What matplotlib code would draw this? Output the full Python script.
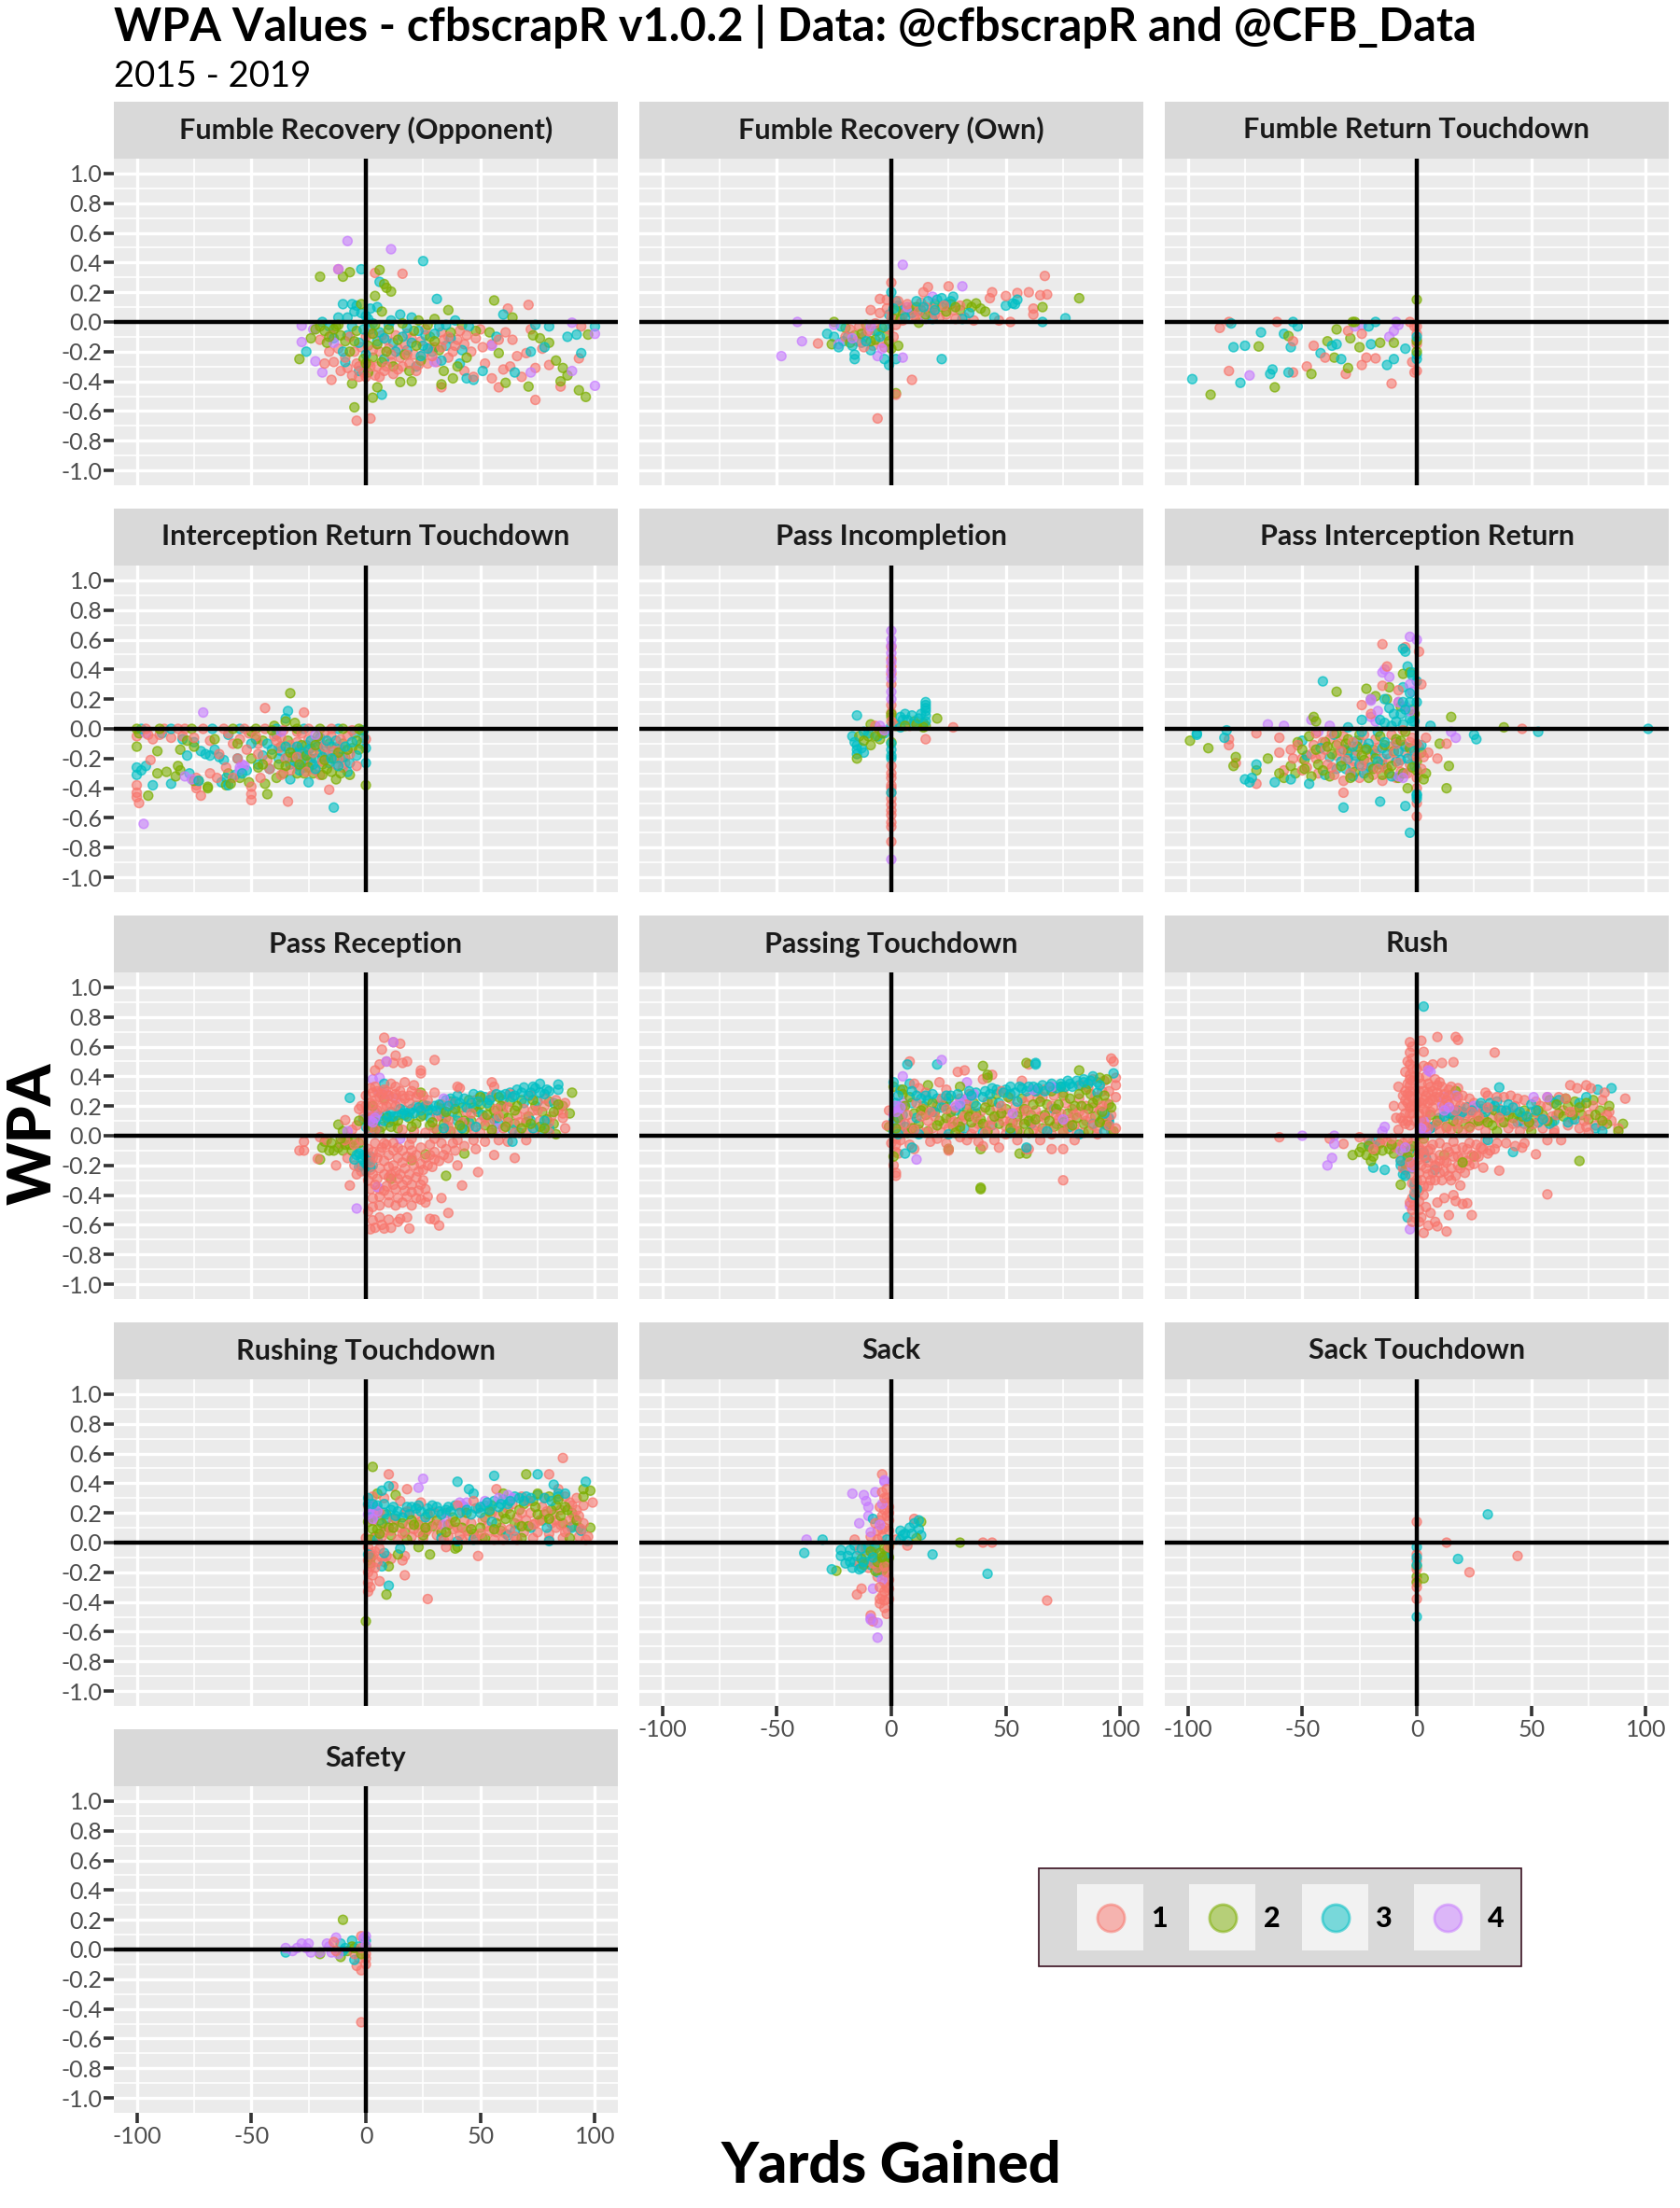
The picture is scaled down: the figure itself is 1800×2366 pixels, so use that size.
import numpy as np
import matplotlib
matplotlib.use("Agg")
import matplotlib.pyplot as plt
from matplotlib.patches import Rectangle

# (yards gained, wpa), one list per quarter
fum_opp_q1 = [(-12,.355),(4,.33),(16,.325),(71,.115),(62,.09),(-15,-.39),(-4,-.665),(2,-.65),(33,-.44),(94,-.03),(93,-.245),(85,-.435),(74,-.525),(58,-.44),(-20,-.12),(-16,-.2),(-14,-.27),(-11,-.33),(-8,-.31),(-5,-.2),(-3,-.37),(0,-.1),(1,-.28),(4,-.36),(6,-.2),(9,-.12),(11,-.27),(14,-.18),(16,-.3),(18,-.08),(21,-.22),(24,-.13),(27,-.28),(30,-.17),(33,-.07),(36,-.24),(40,-.12),(43,-.33),(46,-.2),(50,-.05),(52,-.28),(55,-.15),(60,-.32),(61,-.07),(63,-.3),(66,-.23),(68,-.37),(70,-.21),(72,-.05),(74,-.31),(77,-.18),(80,-.29),(55,-.38),(47,-.37),
 (-18,-.28),(-15,-.09),(-12,-.18),(-9,-.24),(-7,-.1),(-4,-.28),(-2,-.17),(-1,-.34),(2,-.08),(3,-.19),(5,-.3),(7,-.09),(8,-.33),(10,-.18),(12,-.35),(13,-.09),(15,-.24),(17,-.15),(19,-.28),(20,-.11),(22,-.33),(25,-.22),(26,-.05),(28,-.17),(31,-.27),(34,-.12),(38,-.2),(41,-.06),(43,-.15),(48,-.11),(51,-.17),(58,-.12),(64,-.12),
 (-6,-.36),(-3,-.3),(0,-.37),(2,-.3),(6,-.37),(9,-.3),(11,-.22),(14,-.32),(18,-.22),(23,-.29),(29,-.23),(33,-.17),(36,-.1),(39,-.16),(44,-.09)]
fum_opp_q2 = [(-7,.335),(6,.35),(-20,.305),(-10,.305),(8,.255),(9,.23),(11,.205),(4,.175),(56,.145),(36,.08),(-29,-.25),(-6,-.415),(5,-.44),(3,-.51),(-5,-.575),(33,-.42),(15,-.405),(20,-.4),(97,-.085),(88,-.36),(85,-.4),(93,-.46),(96,-.505),(71,-.435),(61,-.41),(-24,-.11),(-22,-.05),(-18,-.06),(-13,-.03),(-9,-.13),(-2,.12),(1,-.16),(3,-.24),(7,.07),(12,-.3),(19,-.33),(23,.01),(28,-.1),(34,-.33),(38,-.38),(42,-.02),(48,-.06),(54,-.07),(58,-.21),(64,.03),(73,-.09),(76,-.11),(80,-.14),(83,-.26),(86,-.31),(30,.02),
 (-17,-.14),(-14,-.05),(-11,-.09),(-7,-.2),(-4,-.06),(-1,-.25),(1,-.34),(3,-.08),(5,-.15),(7,-.27),(10,-.05),(14,-.12),(17,-.22),(21,-.06),(24,-.26),(27,-.02),(32,-.19),(37,-.07),(40,-.3),(44,-.24),
 (-20,-.03),(-16,-.1),(-12,-.02),(-5,-.13),(0,-.28),(4,-.02),(9,-.2),(16,-.01),(22,-.16),(30,-.13)]
fum_opp_q3 = [(-2,.355),(6,.27),(31,.155),(25,.41),(-26,-.2),(7,-.49),(100,-.03),(92,-.085),(94,-.21),(-10,.12),(-6,.12),(-4,.11),(-2,.06),(0,.04),(2,.09),(5,.1),(-19,0),(-16,-.03),(-12,.03),(-8,-.09),(-9,-.27),(-3,-.33),(2,-.05),(5,-.13),(8,-.25),(12,-.14),(15,.05),(18,-.19),(20,.03),(22,-.3),(26,-.09),(29,-.2),(32,-.03),(35,-.16),(39,.01),(41,-.28),(44,-.38),(47,-.39),(51,-.33),(57,-.1),(60,.05),(65,-.34),(72,-.2),(74,-.02),(78,-.17),(80,-.03),(88,-.1),
 (-14,-.11),(-10,-.2),(-6,-.03),(-3,-.14),(0,-.22),(3,-.01),(6,-.07),(10,-.02),(13,-.2),(16,-.1),(20,-.14),(23,-.06),(25,-.16),(30,-.08),(33,-.26),(37,-.11),(42,-.19),(45,-.03),
 (-8,.03),(-5,.07),(-1,-.05),(1,.02),(8,-.11),(11,.01),(18,-.04),(24,-.23),(27,-.18),(35,-.02)]
fum_opp_q4 = [(-8,.545),(11,.49),(-12,.355),(-28,-.025),(-23,-.05),(-28,-.135),(-22,-.265),(-19,-.34),(90,-.005),(100,-.08),(90,-.33),(100,-.43),(55,-.16),(-14,-.14),(30,-.27),(72,-.34)]

fum_own_q1 = [(67,.31),(-6,-.65),(2,-.49),(9,-.39),(-32,-.145),(0,.265),(-5,.155),(-2,.15),(4,.1),(14,.2),(16,.235),(25,.24),(44,.2),(43,.16),(50,.175),(55,.195),(60,.2),(65,.18),(68,.185),(62,.09),(62,.05),(36,.01),(47,.01),(52,0),(-9,.08),(-12,-.1),(-8,-.16),(-4,-.14),(-3,-.17),(-1,-.05),(2,-.02),(6,.06),(9,.1),(11,.03),(13,.13),(17,.06),(18,.09),(21,.03),(24,.05),(27,.08),(30,.11),(32,.03),(-18,-.05),(-15,-.13),(-12,-.17),
 (-20,-.1),(-14,-.03),(-10,-.06),(-7,-.01),(-5,.06),(-2,.09),(0,.03),(1,-.1),(3,.14),(5,.01),(7,.12),(10,.04),(12,.07),(15,.1),(19,.05),(23,.11),(28,.02)]
fum_own_q2 = [(82,.16),(2,-.48),(-26,-.15),(-25,0),(-20,-.04),(-16,-.09),(-11,-.02),(-6,-.06),(-2,-.09),(1,.02),(5,.05),(8,.08),(12,-.005),(19,.12),(22,.1),(26,.12),(30,.08),(33,.12),(35,.1),(37,.125),(39,.09),(41,.07),(66,.1),(3,-.16),(0,-.18),(-4,-.04),(-9,-.13),
 (-18,-.14),(-13,-.08),(-7,-.12),(-1,-.13),(2,.08),(4,.02),(11,.1),(15,.05),(24,.07),(28,.1)]
fum_own_q3 = [(22,-.25),(-28,-.08),(-25,-.1),(-21,-.13),(-16,-.22),(-16,-.25),(-3,-.25),(-1,-.29),(2,-.25),(50,.11),(53,.125),(54,.12),(55,.15),(66,0),(76,.025),(27,.17),(0,.2),(2,.14),(5,.08),(-22,-.03),(-19,-.1),(-13,-.14),(-9,-.19),(-7,-.06),(-1,.05),(3,.11),(9,.06),(13,.08),(16,.14),(20,.15),(22,.16),(24,.12),(26,.14),(31,.02),(34,.06),(45,.03),(18,.02),
 (-23,-.17),(-17,-.16),(-11,-.13),(-5,-.1),(-3,-.03),(1,.09),(6,.03),(11,.14),(14,.1),(19,.08)]
fum_own_q4 = [(5,.385),(31,.24),(-41,0),(-39,-.13),(-48,-.23),(-6,-.23),(-23,-.15),(5,-.24),(-25,-.02),(18,.17),(-11,-.08),(7,.1),(15,.02),(-17,-.11),(-9,-.03),(-4,-.18)]

fum_td_q1 = [(-82,-.33),(-54,-.34),(-48,-.3),(-31,-.35),(-11,-.415),(-24,-.29),(-22,-.24),(-18,-.245),(-40,-.24),(-45,-.16),(-54,-.13),(-86,-.04),(-82,0),(-61,0),(-30,-.06),(-24,-.08),(-3,0),(-1,-.03),(0,-.08),(0,-.12),(0,-.15),(-2,-.27),(0,-.33),(-1,-.34),(0,-.03)]
fum_td_q2 = [(0,.15),(-90,-.49),(-62,-.44),(-46,-.35),(-30,-.31),(-36,-.24),(-69,-.165),(-56,-.095),(-39,-.13),(-35,-.05),(-29,-.11),(-25,-.17),(-16,-.14),(-10,-.14),(-28,0),(-27,0),(0,-.13),(0,-.2)]
fum_td_q3 = [(-98,-.385),(-77,-.41),(-63,-.32),(-64,-.35),(-56,-.34),(-13,-.29),(-10,-.25),(-42,-.21),(-33,-.25),(-55,-.17),(-58,-.08),(-68,-.07),(-75,-.16),(-80,-.17),(-81,-.01),(-54,0),(-52,-.03),(-20,-.15),(-37,-.16),(-35,-.15),(-21,-.03),(-18,0),(-5,-.18),(0,-.25),(0,-.22),(0,-.1)]
fum_td_q4 = [(-73,-.36),(-24,-.02),(-12,-.1),(-10,-.06),(-9,0),(-27,-.03),(-8,-.02)]

int_td_q1 = [(-100,-.05),(-100,-.38),(-100,-.43),(-100,-.46),(-99,-.5),(-94,-.21),(-93,-.07),(-88,0),(-85,-.06),(-90,-.04),(-80,-.05),(-74,-.38),(-72,-.45),(-74,-.4),(-79,0),(-74,-.33),(-68,-.3),(-68,-.08),(-62,0),(-60,-.03),(-58,-.1),(-55,-.07),(-51,-.03),(-47,-.1),(-44,.14),(-50,-.39),(-50,-.44),(-50,-.48),(-34,-.49),(-30,-.02),(-37,-.06),(-40,-.05),(-38,-.13),(-33,-.11),(-30,-.25),(-27,.11),(-30,-.09),(-27,-.16),(-25,-.07),(-24,-.23),(-22,-.28),(-20,-.09),(-20,-.31),(-17,-.18),(-16,-.41),(-15,-.05),(-13,-.24),(-12,-.12),(-10,-.26),(-8,-.05),(0,-.07),(-9,-.23),(-56,-.2),(-58,-.33),(-64,-.17),(-46,-.33),(-43,-.21),(-65,-.33),(-61,-.26),
 (-96,0),(-82,0),(-71,0),(-53,0),(-44,0),(-36,-.01),(-25,0),(-15,0),(-6,-.01),(-95,-.04),(-75,-.06),(-48,-.05),(-28,-.03),(-18,-.03),(-35,-.2),(-33,-.28),(-26,-.29),(-19,-.22),(-14,-.15),(-11,-.07),(-7,-.17),(-4,-.25),(-39,-.08),
 (-30,-.19),(-23,-.16),(-18,-.12),(-12,-.2),(-42,-.27),(-37,-.31),(-52,-.14),(-47,-.17)]
int_td_q2 = [(-33,.24),(-95,-.45),(-87,-.29),(-81,-.28),(-91,-.15),(-100,-.12),(-99,-.03),(-91,-.3),(-83,-.32),(-82,-.25),(-73,-.35),(-69,-.39),(-81,-.14),(-75,-.12),(-75,-.35),(-69,-.4),(-60,-.3),(-55,-.33),(-61,-.38),(-51,-.36),(-45,-.08),(-44,-.37),(-39,-.33),(-37,-.12),(-34,-.08),(-29,-.14),(-27,-.21),(-24,-.13),(-24,-.2),(-23,-.3),(-20,-.16),(-19,-.24),(-16,-.1),(-15,-.29),(-10,-.1),(-7,-.31),(-9,-.19),(0,-.38),(-43,-.44),(-40,.02),(-35,.05),(-31,.04),(-50,-.2),(-56,-.1),(-66,-.07),(-50,-.02),(-30,-.3),(-27,-.3),(-19,-.31),(-13,-.34),(-4,-.08),(-6,-.13),(-3,-.14),(-2,-.01),(-48,-.07),(-47,-.26),(-59,-.37),(-78,-.08),
 (-100,0),(-90,0),(-76,0),(-58,0),(-48,0),(-41,-.01),(-30,0),(-20,0),(-10,0),(-3,0),(-38,-.24),(-36,-.3),(-32,-.19),(-28,-.11),(-25,-.26),(-21,-.05),(-17,-.27),(-14,-.2),(-11,-.3),(-8,-.14),(-41,-.17),
 (-33,-.16),(-26,-.18),(-22,-.11),(-18,-.21),(-12,-.16),(-35,-.25),(-29,-.24),(-45,-.24)]
int_td_q3 = [(-100,-.26),(-100,-.31),(-98,-.28),(-96,-.25),(-93,-.38),(-85,-.37),(-89,-.03),(-80,-.07),(-75,-.09),(-77,-.3),(-70,-.17),(-72,-.15),(-68,-.18),(-66,-.14),(-64,-.19),(-62,-.21),(-60,-.04),(-63,-.36),(-61,-.33),(-60,-.38),(-56,-.2),(-57,-.31),(-52,-.28),(-47,-.24),(-45,-.18),(-42,-.27),(-39,-.04),(-37,-.15),(-34,-.19),(-33,-.34),(-35,.07),(-32,-.14),(-30,-.17),(-28,-.23),(-34,.12),(-27,-.26),(-26,-.11),(-25,-.36),(-24,-.08),(-22,-.2),(-20,-.06),(-18,-.15),(-15,-.12),(-14,-.53),(-13,-.18),(-11,-.14),(-8,-.29),(-5,-.03),(-2,-.1),(0,-.13),(-1,-.06),(0,-.23),(-78,-.18),(-73,-.35),(-43,-.1),
 (-98,0),(-85,0),(-67,0),(-55,0),(-39,0),(-27,0),(-12,0),(-1,-.01),(-41,-.14),(-38,-.2),(-35,-.12),(-33,-.24),(-31,-.22),(-29,-.28),(-26,-.18),(-23,-.24),(-21,-.12),(-19,-.19),(-16,-.23),(-13,-.08),(-10,-.19),(-7,-.23),(-4,-.18),(-50,-.1),(-54,-.3),
 (-30,-.12),(-28,-.16),(-25,-.14),(-22,-.27),(-17,-.08),(-15,-.2),(-12,-.25),(-9,-.12),(-6,-.09)]
int_td_q4 = [(-71,.11),(-97,-.64),(-96,-.03),(-79,-.32),(-76,-.34),(-54,-.24),(-55,-.28),(-55,-.26),(-53,-.25),(-37,-.02),(-22,-.04)]

incomp_q1 = [(0,.55),(0,.47),(0,.42),(0,.37),(0,.3),(0,.16),(0,.11),(-7,.02),(-5,-.01),(2,.03),(8,.02),(15,-.07),(27,.01),(0,-.3),(0,-.33),(0,-.38),(0,-.4),(0,-.43),(0,-.47),(0,-.51),(0,-.55),(0,-.58),(0,-.63),(0,-.66),(0,-.76),(0,.05),(0,-.25)]
incomp_q2 = [(-9,.03),(-5,-.07),(-10,-.05),(0,.08),(2,.02),(10,.05),(14,.04),(15,.02),(20,.07),(-15,-.2),(-14,-.05),(-9,-.11),(-4,-.03),(0,-.09),(14,.01),(11,.03),(0,.1),(-12,-.08),(-7,-.05),(6,.02)]
incomp_q3 = [(-15,.09),(-17,-.05),(-15,-.14),(-15,-.11),(-15,-.17),(-12,-.16),(-6,-.05),(-3,-.03),(0,-.18),(0,-.2),(0,-.14),(4,.08),(5,.06),(7,.06),(9,.09),(10,.03),(15,.18),(15,.16),(15,.14),(15,.12),(15,.09),(15,.05),(-12,-.02),(4,.01),(0,-.43),(0,.02),(-16,-.09),(-13,-.13),(-10,-.03),(6,.1),(12,.07),(13,.1),(0,-.1)]
incomp_q4 = [(0,.66),(0,.6),(0,.56),(0,.51),(0,.45),(0,.39),(0,.34),(-5,.02),(-3,-.01),(0,-.88),(0,.25),(0,.2)]

pass_int_q1 = [(-82,-.07),(-82,-.11),(-79,-.23),(-70,-.37),(-60,-.16),(-55,-.14),(-58,-.28),(-50,-.2),(-50,-.28),(-45,-.11),(-43,-.3),(-38,-.07),(-35,-.18),(-32,-.35),(-32,-.05),(-32,-.43),(-30,-.13),(-28,-.26),(-27,-.22),(-25,-.33),(-24,-.1),(-22,-.28),(-20,-.17),(-20,.1),(-18,-.07),(-15,-.35),(-24,.16),(-12,-.2),(-9,-.33),(-8,.18),(-12,-.12),(-7,-.29),(-5,-.16),(-3,-.24),(-5,.55),(-2,-.06),(-6,-.01),(0,-.33),(0,-.4),(0,-.5),(0,-.59),(1,-.12),(3,-.19),(5,-.16),(9,-.2),(13,-.1),(46,0),(-13,.42),(-15,.57),(-15,.29),(-8,.26),(1,.52),(2,.3),(-54,-.2),(-42,-.18),(-37,-.26),
 (-52,-.11),(-48,-.26),(-46,-.17),(-44,-.2),(-41,-.09),(-39,-.24),(-36,-.31),(-34,-.1),(-31,-.21),(-29,-.3),(-26,-.15),(-23,-.04),(-21,-.23),(-19,-.31),(-17,-.13),(-15,-.2),(-13,-.27),(-11,-.04),(-10,-.16),(-8,-.23),(-6,-.11),(-4,-.3),(-2,-.18),(0,-.1),(2,-.27),(4,-.06),(-60,-.06),(-70,-.03),
 (-44,-.03),(-40,-.14),(-37,-.03),(-33,-.15),(-28,-.09),(-24,-.25),(-17,-.27),(-9,-.1),(-3,-.09),(0,-.19)]
pass_int_q2 = [(-99,-.08),(-91,-.13),(-79,-.19),(-80,-.25),(-70,-.28),(-58,-.33),(-53,-.3),(-55,-.25),(-49,-.21),(-46,-.32),(-40,-.09),(-45,.08),(-44,.05),(-38,-.32),(-35,.25),(-35,-.11),(-30,-.16),(-27,-.29),(-25,-.04),(-23,-.21),(-19,-.14),(-20,.2),(-22,.27),(-18,.22),(-13,.2),(-15,-.31),(-13,-.27),(-12,.28),(-10,-.15),(-8,-.33),(-6,.37),(-3,.38),(-2,.13),(-1,.1),(3,-.34),(2,-.16),(15,.08),(10,-.1),(14,-.25),(4,-.3),(-30,-.07),(-7,.15),(38,.01),(-52,-.09),(-60,-.3),(-16,-.24),(-4,-.4),(0,-.22),(13,-.4),
 (-50,-.14),(-47,-.05),(-43,-.24),(-41,-.28),(-37,-.17),(-33,-.25),(-29,-.33),(-26,-.12),(-24,-.18),(-21,-.33),(-18,-.2),(-16,-.05),(-14,-.11),(-11,-.25),(-9,-.07),(-6,-.3),(-3,-.13),(0,-.28),(-65,-.2),(-35,-.03),(-5,-.02),
 (-49,-.27),(-44,-.14),(-39,-.12),(-31,-.1),(-22,-.14),(-19,-.27),(-12,-.3),(-7,-.08),(-2,-.26)]
pass_int_q3 = [(-96,-.03),(-96,-.04),(-84,-.06),(-83,-.01),(-73,-.36),(-75,-.34),(-72,-.33),(-70,-.24),(-62,-.36),(-55,-.34),(-50,-.08),(-48,-.18),(-47,-.37),(-40,-.31),(-38,-.19),(-36,-.04),(-35,-.27),(-32,-.14),(-30,.01),(-28,-.32),(-26,-.08),(-33,-.22),(-23,-.3),(-22,-.13),(-18,-.17),(-15,-.24),(-14,.04),(-14,.2),(-12,.14),(-10,.1),(-9,-.09),(-7,-.21),(-6,.03),(-3,.07),(-4,.42),(-6,.28),(-6,.54),(-5,.52),(-2,.38),(-2,.36),(-1,.05),(0,.32),(0,.18),(-30,-.2),(-32,-.53),(-16,-.49),(-5,-.52),(0,-.45),(0,-.44),(-3,-.7),(0,-.47),(-24,.06),(6,.02),(2,-.11),(25,-.04),(26,-.07),(53,-.02),(101,0),(-41,.32),
 (-42,-.13),(-31,-.27),(-27,-.18),(-25,-.24),(-24,-.02),(-20,-.26),(-17,-.02),(-15,-.13),(-13,-.17),(-11,-.32),(-9,-.22),(-7,.1),(-5,.13),(-5,-.12),(-3,.18),(-2,.05),(-1,-.25),(-9,.05),(-11,.02),(-16,.06),(-6,.18),(-3,.24),
 (-28,-.12),(-21,-.1),(-17,-.22),(-14,-.09),(-8,-.15),(-4,-.2),(-1,-.15)]
pass_int_q4 = [(-65,.03),(-58,.02),(-46,.06),(-43,-.02),(-38,.02),(-20,.08),(-18,.05),(-17,.12),(-14,.4),(-15,.38),(-12,.35),(-20,.19),(-20,.2),(-2,.25),(-3,.62),(0,.6),(-8,.18),(-5,.15),(-3,.12),(-5,-.3),(-8,-.32),(-6,-.33),(-3,.3),(17,-.06),(15,-.02)]

recept_q1 = [(8,.66),(12,.63),(15,.62),(7,.58),(13,.54),(30,.51),(18,.5),(16,.49),(24,.44),(24,.42),(4,.44),(6,.48),(9,.5),(12,.49),(55,.36),(41,.32),(87,.22),(-9,.105),(-27,-.04),(-29,-.1),(-27,-.1),(-21,-.155),(-13,-.2),(-7,-.335),(42,-.335),(49,-.245),(40,-.2),(65,-.15),(56,-.13),(33,-.42),(36,-.52),(32,-.605),(30,-.565),(28,-.56),(19,-.625),(18,-.55),(15,-.56),(10,-.565),(7,-.6),(4,-.62),(2,-.63),(8,-.625),(11,-.62),(14,-.58),(3,-.57),(6,-.55),(1,-.51),(3,-.48),(6,-.47),(10,-.45),(13,-.47),(16,-.45),(20,-.47),(22,-.42),(24,-.43),(26,-.45),(27,-.41),(18,-.41),(14,-.42),(10,-.4),(6,-.41),(3,-.42),(2,-.36),(6,-.36),(9,-.34),(13,-.36),(17,-.37),(20,-.33),(23,-.37),(26,-.36),(25,-.3),(18,-.3),(22,-.28),(14,-.29),(10,-.28),(5,-.29),(1,-.3),(2,-.23),(6,-.22),(10,-.21),(13,-.24),(17,-.22),(21,-.2),(25,-.23),(29,-.21),(32,-.17),(36,-.15),(39,-.1),(35,-.09),(30,-.11),(26,-.15),(22,-.13),(18,-.14),(14,-.15),(10,-.13),(6,-.11),(3,-.15),(1,-.09),(4,-.05),(9,-.06),(14,-.08),(19,-.06),(24,-.08),(28,-.06),(33,-.05),(38,-.05),(43,-.07),(47,-.03),(52,-.04),(48,-.09),(58,-.03),(62,-.04),(70,-.03),(-4,-.26),(-5,-.2),(-2,-.24),(-8,-.15),(-11,-.05),(-17,-.03),(-20,-.01),(-4,.07),(-3,.18),(-2,.2),(-1,.13),(-6,.04),(1,.05),(2,.12),(2,.22),(3,.29),(4,.33),(6,.26),(8,.31),(11,.35),(13,.33),(17,.36),(21,.34),(9,.2),(12,.26),(15,.22),(20,.3),(24,.19),(30,.29),(33,.13),(38,.22),(40,.33),(44,.16),(48,.24),(52,.12),(55,.27),(56,.33),(60,.2),(63,.28),(66,.14),(69,.18),(72,.27),(76,.1),(78,.2),(81,.13),(83,.24),(86,.12),(86,.15),(87,.05),(74,.04),(60,.05),(45,.06),(30,.05),
 (0,.2),(0,.27),(1,.16),(2,.32),(4,.24),(5,.3),(7,.19),(8,.24),(9,.3),(10,.27),(13,.28),(15,.3),(17,.25),(19,.27),(22,.26),(25,.27),(16,.04),(21,.03),(26,.02),(35,.02),(40,.03),(50,.02),(55,.02),(65,.02),(70,.02),(80,.02),(36,.06),(42,.09),(47,.04),(54,.09),(58,.13),(62,.09),(67,.09),(70,.12),(75,.17),(80,.09),(84,.17),(78,.25),(73,.17),(62,.19),(57,.18),(50,.09),(46,.15),(36,.1),(31,.13),(-2,-.03),(-5,-.06),(-9,-.03),(12,-.05),(16,-.1),(20,-.1),(24,-.19),(28,-.13),(5,-.15),(8,-.17),(11,-.26),(16,-.18),(19,-.26),(3,-.26),
 (3,.21),(5,.17),(7,.28),(11,.21),(13,.2),(16,.27),(19,.22),(23,.28),(27,.24),(4,.04),(8,-.05),(12,-.1),(8,-.26),(12,-.2),(15,-.26),(20,-.15),(23,-.24),(27,-.2),(30,-.16),(34,-.13),(2,-.18),(7,-.08),(16,-.33),(12,-.33),(8,-.37),(4,-.33),(20,-.38),(24,-.33),(3,-.11),(40,-.03),(30,-.02),(20,-.02)]
recept_q2 = [(90,.29),(89,.15),(86,.2),(-12,.075),(-20,-.16),(-18,-.04),(-19,-.08),(-14,-.1),(-10,-.1),(-7,-.06),(-3,-.05),(-10,.03),(35,-.27),(43,-.12),(26,-.125),(20,-.165),(11,-.29),(83,.01),(8,.25),(7,.06),(12,.1),(17,.14),(22,.08),(27,.17),(31,.04),(35,.12),(37,.23),(40,.13),(42,.19),(45,.24),(46,.1),(49,.16),(52,.07),(54,.2),(57,.12),(60,.15),(63,.23),(65,.08),(68,.24),(71,.13),(74,.2),(77,.16),(80,.23),(82,.08),(33,.21),(25,.21),(14,.05),(-3,.1),(-6,-.1),(-9,-.06),(3,.2),(24,.29),
 (-15,-.05),(-12,-.08),(-8,-.03),(-5,-.03),(4,.09),(9,.12),(14,.1),(19,.12),(24,.13),(28,.07),(34,.08),(37,.03),(43,.1),(47,.19),(50,.21),(56,.17),(59,.2),(62,.12),(66,.2),(70,.09),(73,.24),(76,.06),(79,.11),(43,.04),(55,.04),(68,.05),(39,.18),(50,.26),(58,.26),
 (-16,-.1),(-11,-.02),(3,.06),(6,.03),(11,.06),(20,.06),(29,.09),(35,.16),(41,.07),(53,.14),(61,.06),(65,.17),(72,.08),(78,.05),(82,.16),(84,.21)]
recept_q3 = [(-7,.255),(76,.35),(84,.345),(69,.325),(74,.32),(79,.31),(84,.31),(80,.3),(73,.33),(8,.35),(-2,-.1),(-2,-.16),(-3,-.21),(-2,-.2),(1,-.17),(2,-.14),(3,-.2),(0,-.24),(-1,.11),(0,.06),(3,.04),(6,.13),(9,.14),(11,.16),(14,.14),(17,.17),(20,.18),(22,.2),(25,.14),(27,.2),(30,.2),(33,.18),(35,.24),(37,.25),(40,.27),(43,.25),(45,.09),(48,.18),(50,.27),(52,.26),(55,.26),(58,.08),(60,.24),(63,.29),(66,.31),(69,.22),(72,.1),(75,.23),(77,.03),(80,.05),(82,.22),(64,.04),(67,.02),(51,.14),(56,.11),(40,.1),(28,.12),(10,.09),(64,-.04),
 (-4,-.13),(-5,-.16),(-1,-.13),(0,-.19),(2,-.21),(4,.08),(8,.1),(12,.13),(15,.18),(18,.13),(21,.15),(24,.17),(26,.2),(29,.17),(32,.21),(34,.15),(38,.16),(41,.22),(44,.19),(47,.28),(53,.22),(57,.28),(61,.28),(65,.27),(68,.29),(71,.27),(78,.28),(42,.05),(48,.06),(34,.05),(73,.05),(78,.1),
 (-3,-.12),(0,-.14),(10,.13),(16,.15),(19,.16),(23,.19),(31,.17),(36,.2),(39,.23),(46,.22),(49,.23),(54,.24),(59,.27),(64,.26),(72,.29),(76,.29)]
recept_q4 = [(3,.38),(6,.39),(6,.29),(4,.16),(3,.12),(5,.14),(2,.13),(5,.05),(13,.25),(9,.28),(33,.19),(34,.25),(37,.2),(57,.05),(-4,-.49),(5,-.345),(12,.63),(9,.5),(-8,.03),(15,-.02),(2,.1),(4,.12),(3,.09)]

pass_td_q1 = [(8,.5),(60,.48),(29,.43),(32,.44),(44,.41),(40,.38),(57,.37),(96,.52),(97,.5),(98,.39),(98,.34),(98,.26),(93,.37),(92,.3),(88,.38),(10,.35),(12,.32),(15,.29),(5,.2),(4,.1),(-1,.17),(21,.36),(24,.31),(20,.2),(14,.18),(9,.09),(18,.05),(26,.12),(30,.25),(35,.16),(38,.08),(42,.23),(47,.13),(50,.06),(54,.19),(58,.11),(62,.04),(66,.26),(69,.16),(72,.08),(75,.29),(79,.18),(82,.25),(85,.1),(88,.19),(90,.05),(94,.12),(96,.03),(12,.04),(30,.04),(56,.03),(77,.05),(4,-.03),(2,-.06),(3,-.12),(2,-.11),(1,-.2),(2,-.25),(2,-.27),(8,-.06),(10,-.09),(17,-.04),(24,-.05),(25,-.1),(25,-.09),(30,-.01),(33,-.03),(38,-.04),(40,-.07),(59,-.09),(60,-.09),(47,-.08),(75,-.09),(75,-.3),(70,-.09),(60,.26),(67,.31),(73,.11),(80,.07),(86,.32),(48,.3),(34,.28),(23,.08),(65,.13),(52,.25),
 (3,.04),(7,.14),(11,.22),(16,.1),(19,.13),(22,.25),(25,.05),(28,.19),(31,.1),(33,.21),(36,.05),(39,.16),(41,.06),(44,.11),(46,.19),(49,.1),(51,.15),(53,.04),(56,.16),(58,.22),(61,.09),(63,.17),(64,.25),(68,.05),(70,.2),(71,.27),(74,.15),(76,.22),(78,.11),(81,.02),(82,.16),(83,.34),(85,.2),(87,.12),(89,.26),(91,.17),(93,.08),(94,.22),(95,.3),(96,.14),(5,.02),(15,.02),(22,.02),(35,.01),(45,.02),(50,.01),(65,.02),(70,.01),(84,.02),(90,.01),(-2,.07),(2,-.02),(8,.03),(0,-.05),(20,-.02),(45,-.03),(55,-.03),(65,-.03),(80,-.03),
 (6,.08),(13,.13),(17,.16),(24,.18),(27,.09),(32,.13),(37,.12),(43,.07),(48,.2),(52,.1),(55,.08),(59,.17),(63,.07),(67,.12),(72,.14),(77,.08),(80,.14),(84,.14),(88,.07),(92,.2),(95,.07),(10,.04),(41,.02),(75,.02),(98,.05)]
pass_td_q2 = [(1,.33),(40,.47),(59,.49),(42,.39),(42,.41),(16,.34),(5,.31),(5,.28),(4,.08),(-1,.06),(82,.44),(91,.39),(94,.38),(95,.21),(92,.11),(16,.03),(10,.15),(14,.2),(19,.16),(25,.25),(27,.06),(31,.14),(36,.22),(39,.11),(43,.17),(46,.28),(50,.18),(53,.09),(57,.25),(61,.14),(64,.3),(68,.21),(71,.06),(74,.33),(77,.15),(80,.2),(84,.08),(87,.28),(89,.13),(55,.03),(7,.02),(1,-.14),(25,-.09),(39,-.09),(59,-.12),(56,-.12),(39,-.36),(39,-.35),(30,.33),(47,.08),(75,.27),(66,.05),
 (3,.12),(6,.2),(8,.26),(12,.08),(15,.14),(18,.22),(21,.1),(23,.2),(26,.16),(29,.09),(33,.18),(35,.09),(37,.15),(41,.19),(44,.23),(48,.15),(51,.26),(55,.13),(58,.18),(60,.1),(62,.21),(65,.23),(67,.14),(70,.3),(72,.18),(75,.09),(78,.25),(81,.12),(83,.2),(85,.31),(86,.18),(90,.24),(92,.16),(94,.07),(96,.19),(28,.02),(42,.03),(60,.02),(75,.03),(86,.03),(97,.03),
 (2,.05),(9,.05),(13,.17),(20,.07),(24,.12),(30,.06),(34,.13),(40,.08),(45,.13),(52,.05),(58,.08),(63,.11),(69,.1),(73,.21),(79,.07),(82,.28),(88,.22),(91,.09),(93,.27)]
pass_td_q3 = [(7,.48),(4,.31),(20,.48),(1,.36),(8,.35),(63,.49),(63,.48),(97,.42),(90,.36),(95,.11),(95,.12),(95,.09),(2,.22),(5,.14),(9,.22),(13,.25),(16,.24),(20,.25),(24,.23),(28,.17),(33,.25),(37,.29),(41,.3),(46,.31),(50,.31),(54,.29),(57,.32),(62,.33),(66,.34),(70,.35),(74,.35),(77,.37),(81,.37),(84,.38),(88,.4),(71,.18),(61,.08),(44,.07),(32,.05),(78,.06),(1,.03),(88,.08),(59,-.08),(6,-.12),(9,-.08),
 (1,.1),(3,.27),(6,.06),(9,.3),(11,.12),(15,.27),(18,.16),(22,.19),(26,.27),(30,.2),(34,.3),(37,.2),(40,.26),(43,.28),(47,.22),(49,.29),(52,.28),(55,.23),(59,.3),(63,.3),(67,.3),(72,.32),(76,.33),(79,.33),(82,.34),(86,.35),(90,.29),(93,.15),(12,.01),(25,.01),(40,.02),(52,.02),(68,.03),(82,.01),(93,.03),(3,.01),
 (11,.27),(18,.28),(24,.27),(29,.28),(35,.27),(44,.32),(52,.33),(56,.33),(60,.33),(64,.32),(69,.33),(74,.33),(78,.35),(84,.36),(87,.37),(91,.34)]
pass_td_q4 = [(5,.4),(22,.51),(33,.36),(2,.2),(3,.17),(1,.14),(4,.12),(2,.09),(5,.23),(3,.13),(36,.28),(34,.26),(32,.24),(30,.22),(28,.2),(11,-.16),(70,.33),(62,.31),(2,.16),(4,.19),(53,.15),(75,.11)]

rush_q1 = [(9,.665),(17,.665),(18,.645),(2,.64),(3,.565),(34,.56),(11,.49),(16,.495),(74,.34),(91,.25),(-60,-.01),(-38,-.02),(-32,-.055),(3,-.655),(13,-.645),(9,-.61),(8,-.58),(5,-.605),(14,-.535),(24,-.535),(9,-.45),(12,-.42),(16,-.4),(17,-.44),(20,-.46),(22,-.455),(15,-.3),(19,-.335),(29,-.215),(36,-.235),(57,-.395),(52,-.125),(-3,.63),(-2,.6),(-3,.56),(-2,.52),(-3,.48),(-2,.45),(-5,.43),(-3,.41),(-2,.37),(-8,.33),(-3,.34),(-10,.2),(-3,.3),(-2,.25),(-2,.15),(-5,.15),(-9,.12),(-5,.08),(-8,.04),(3,.47),(5,.46),(4,.4),(2,.35),(7,.48),(3,.3),(6,.33),(9,.34),(11,.33),(14,.31),(18,.32),(5,.22),(8,.26),(11,.22),(15,.27),(19,.2),(23,.25),(30,.29),(31,.27),(38,.26),(41,.27),(47,.24),(52,.23),(57,.26),(62,.26),(67,.34),(70,.32),(76,.32),(82,.29),(81,.24),(84,.16),(85,.1),(88,.05),(78,.07),(72,.2),(68,.11),(64,.17),(59,.13),(55,.05),(50,.16),(45,.1),(40,.05),(33,.12),(27,.07),(22,.15),(17,.08),(12,.12),(8,.07),(4,.11),(2,.03),(-2,-.05),(-4,-.1),(1,-.08),(1,-.16),(1,-.25),(2,-.3),(3,-.34),(1,-.37),(3,-.4),(1,-.44),(-2,-.42),(-3,-.45),(-2,-.5),(-1,-.55),(1,-.5),(2,-.55),(5,-.26),(8,-.3),(5,-.18),(9,-.21),(12,-.24),(15,-.22),(19,-.22),(23,-.2),(27,-.14),(31,-.12),(32,-.1),(6,-.09),(10,-.13),(14,-.11),(18,-.14),(22,-.09),(26,-.06),(30,-.03),(35,-.05),(39,-.05),(43,-.07),(47,-.05),(46,-.08),(57,-.03),(63,-.03),(10,-.05),(16,-.04),(20,-.08),(-25,-.01),(-21,-.03),(-17,-.06),(-13,-.04),(-9,-.08),(-7,-.16),(-6,-.22),(-3,-.26),(3,.18),(6,.16),(7,.3),(13,.17),(16,.15),(24,.1),(28,.2),(36,.18),(43,.2),(49,.06),(54,.2),(60,.04),(66,.07),(71,.05),(75,.14),(80,.12),
 (-2,.2),(-4,.35),(-4,.28),(-4,.22),(-5,.3),(-6,.2),(-7,.12),(-4,.1),(-3,.15),(-1,.4),(0,.45),(1,.39),(1,.3),(0,.22),(1,.15),(2,.22),(2,.1),(4,.27),(5,.35),(8,.38),(10,.36),(9,.29),(12,.28),(13,.24),(15,.33),(17,.23),(20,.27),(7,.19),(10,.15),(14,.21),(21,.12),(25,.22),(26,.15),(29,.1),(32,.18),(35,.26),(37,.09),(40,.16),(44,.25),(47,.11),(51,.08),(53,.15),(57,.2),(61,.14),(65,.25),(69,.16),(73,.1),(77,.2),(81,.07),(83,.14),(5,.05),(10,.03),(15,.04),(20,.03),(30,.03),(45,.03),(60,.02),(75,.02),(3,-.05),(3,-.14),(4,-.22),(7,-.15),(7,-.25),(10,-.17),(11,-.3),(13,-.18),(16,-.14),(17,-.27),(20,-.15),(21,-.25),(24,-.13),(25,-.19),(28,-.08),(2,-.2),(1,-.12),(0,-.3),(-1,-.38),(-1,-.47),(-2,-.58),(1,-.58),(4,-.48),(6,-.52),(-4,-.03),(-6,-.05),(-3,-.18),
 (-4,.5),(-3,.38),(-3,.27),(-3,.19),(-5,.24),(-6,.1),(-3,.07),(-6,.27),(-1,.3),(-1,.2),(-1,.1),(1,.23),(3,.24),(4,.16),(5,.29),(6,.24),(7,.24),(10,.26),(12,.2),(14,.27),(17,.17),(18,.26),(21,.19),(24,.16),(27,.13),(31,.19),(4,.06),(9,.08),(13,.05),(18,.1),(23,.05),(36,.12),(42,.08),(56,.11),(67,.16),(74,.06),(5,-.1),(7,-.06),(8,-.2),(12,-.17),(14,-.27),(18,-.2),(22,-.17),(26,-.13),(29,-.09),(34,-.09),(13,-.08),(17,-.09),(23,-.05),(6,-.3),(5,-.34),(10,-.25),(-2,-.32),(-1,-.2),(2,-.1),(-11,-.02),(-15,-.02),(-19,-.09)]
rush_q2 = [(71,-.17),(-28,-.13),(-7,-.33),(90,.08),(-24,-.08),(-22,-.13),(-20,-.17),(-18,-.1),(-16,-.05),(-12,-.09),(-10,-.12),(-8,-.06),(-5,-.19),(-3,-.12),(2,.01),(12,-.13),(25,-.14),(17,.3),(6,.14),(13,.06),(18,.05),(21,.08),(25,.09),(29,.12),(33,.07),(36,.13),(40,.13),(44,.15),(47,.17),(51,.12),(55,.14),(59,.09),(62,.15),(66,.2),(69,.23),(65,.25),(72,.14),(75,.11),(77,.24),(80,.17),(83,.08),(84,.2),(58,.24),(35,.03),(50,.03),(88,.03),(3,-.02),
 (-25,-.11),(-21,-.07),(-19,-.14),(-15,-.1),(-11,-.06),(-6,-.1),(-4,-.14),(-2,-.07),(9,.1),(16,.1),(23,.06),(27,.1),(31,.09),(34,.17),(38,.09),(42,.12),(46,.13),(49,.09),(53,.17),(57,.1),(61,.21),(64,.13),(68,.14),(71,.19),(74,.22),(78,.14),(81,.1),(20,-.18)]
rush_q3 = [(3,.87),(36,.325),(79,.31),(85,.32),(42,-.11),(-19,-.215),(-14,-.23),(-4,-.55),(-1,-.32),(-5,-.23),(-7,-.2),(-6,-.26),(-20,-.05),(-18,-.04),(-21,-.06),(-2,-.22),(-4,-.16),(-3,-.09),(3,-.11),(4,-.15),(8,-.23),(-1,-.34),(6,.05),(10,.12),(14,.15),(18,.17),(19,.14),(22,.19),(26,.19),(29,.18),(32,.22),(35,.23),(40,.21),(44,.09),(47,.08),(50,.21),(53,.09),(58,.08),(60,.1),(62,.24),(71,.22),(69,.11),(74,.26),(78,.05),(60,.22),(31,-.03),(7,.06),
 (-1,-.4),(0,-.36),(-7,-.17),(-5,-.27),(12,.13),(16,.14),(20,.16),(24,.17),(28,.22),(30,.16),(34,.2),(37,.17),(39,.17),(42,.19),(45,.16),(48,.13),(52,.17),(55,.11),(66,.09),(81,.03)]
rush_q4 = [(-50,0),(-36,0),(-36,-.055),(-37,-.15),(-39,-.2),(-14,.06),(-15,.03),(-3,-.63),(-3,-.47),(6,.43),(5,.44),(3,.1),(4,.06),(2,.09),(3,.04),(-2,-.18),(-2,-.21),(12,.26),(11,.2),(16,.17),(17,.27),(-7,-.1),(25,.2),(51,.26),(57,.26),(-5,-.08),(4,.02),(2,.05),(12,.17),(14,.19)]

rush_td_q1 = [(86,.57),(10,.46),(80,.46),(12,.38),(18,.36),(57,.36),(68,.31),(84,.36),(99,.27),(95,.25),(89,.27),(92,.3),(3,.31),(8,.3),(1,.25),(5,.22),(0,.03),(9,.11),(15,.28),(21,.09),(22,.19),(28,.14),(31,.05),(35,.2),(38,.09),(43,.15),(45,.05),(49,.23),(53,.11),(58,.18),(61,.06),(64,.26),(67,.12),(72,.2),(75,.07),(78,.3),(81,.13),(85,.22),(88,.09),(91,.17),(93,.04),(96,.02),(14,.02),(25,.03),(56,.02),(73,.03),(1,-.03),(2,-.07),(1,-.12),(3,-.09),(4,-.06),(7,-.1),(9,-.09),(11,-.11),(17,-.09),(16,-.12),(8,-.13),(17,-.22),(6,-.26),(1,-.27),(2,-.3),(1,-.33),(27,-.38),(35,-.03),(49,-.09),(24,.27),(40,.25),(51,.03),(66,.02),(1,-.2),(2,-.16),(47,.28),(83,.1),(70,.15),
 (3,.15),(6,.2),(8,.07),(12,.15),(15,.1),(18,.21),(20,.04),(24,.14),(26,.07),(30,.2),(33,.12),(36,.04),(40,.1),(42,.21),(46,.13),(48,.03),(51,.15),(55,.2),(59,.1),(62,.23),(66,.17),(69,.07),(71,.28),(74,.13),(77,.24),(80,.06),(82,.19),(85,.12),(87,.31),(89,.15),(92,.22),(94,.09),(97,.04),(86,.03),(4,.03),(34,.02),(42,.02),(60,.02),(80,.02),(2,-.09),(5,-.13),(6,-.04),(4,-.17),(3,-.22),
 (7,.04),(11,.08),(16,.06),(19,.12),(23,.07),(27,.09),(31,.12),(37,.13),(41,.05),(44,.08),(50,.06),(54,.08),(57,.07),(63,.09),(65,.04),(68,.2),(73,.12),(76,.15),(79,.21),(83,.15),(87,.07),(90,.25),(93,.18),(95,.13)]
rush_td_q2 = [(3,.51),(70,.46),(5,.33),(13,.32),(60,.33),(95,.36),(98,.35),(95,.31),(90,.11),(98,.1),(93,.1),(5,.09),(9,.19),(4,.04),(11,.05),(13,.16),(17,.07),(23,.12),(27,.19),(33,.07),(38,.17),(42,.1),(47,.06),(52,.17),(55,.25),(59,.08),(60,.2),(65,.13),(69,.26),(73,.28),(77,.15),(80,.31),(83,.25),(86,.13),(90,.2),(2,-.14),(2,-.1),(10,-.16),(28,-.08),(39,-.04),(40,-.03),(14,-.08),(0,-.53),(9,-.35),(23,-.03),(75,.33),
 (1,.14),(3,.09),(7,.13),(10,.1),(16,.13),(20,.15),(25,.05),(29,.11),(31,.15),(36,.12),(44,.2),(50,.1),(54,.21),(57,.13),(63,.19),(67,.22),(71,.11),(74,.24),(78,.19),(81,.22),(84,.29),(88,.22),(92,.15),(2,.02),(18,.02),(52,.03),(68,.03),(89,.03),
 (6,.06),(12,.1),(21,.12),(26,.1),(35,.07),(39,.14),(46,.09),(56,.09),(61,.16),(68,.11),(75,.19),(80,.16),(85,.18),(87,.24)]
rush_td_q3 = [(56,.45),(75,.46),(40,.41),(45,.36),(47,.33),(82,.39),(96,.41),(10,.38),(7,.35),(1,.3),(1,.26),(2,.22),(4,.19),(6,.15),(8,.2),(11,.22),(14,.21),(17,.2),(20,.24),(24,.21),(27,.23),(31,.24),(35,.22),(39,.25),(43,.24),(48,.23),(52,.25),(56,.28),(60,.29),(65,.31),(70,.31),(75,.32),(84,.33),(90,.1),(94,.08),(84,.31),(72,.1),(62,.05),(47,.02),(33,.03),(1,-.08),(7,-.16),(10,-.29),(8,-.07),(15,-.04),
 (2,.17),(5,.25),(9,.16),(13,.18),(16,.17),(19,.19),(22,.23),(26,.17),(29,.25),(33,.19),(37,.21),(41,.2),(46,.19),(50,.2),(54,.22),(58,.24),(62,.26),(67,.3),(72,.3),(78,.3),(81,.28),(87,.33),(55,.14),(65,.08),(79,.1),(5,.02),(40,.01),(80,.01),
 (3,.26),(8,.26),(12,.24),(18,.24),(23,.25),(28,.2),(32,.21),(36,.24),(44,.22),(50,.24),(53,.27),(59,.26),(63,.28),(69,.28)]
rush_td_q4 = [(25,.43),(23,.37),(2,.25),(4,.24),(3,.2),(41,.27),(42,.25),(44,.27),(58,.3),(62,.32),(35,.16),(34,.12),(64,.3),(3,.16),(5,.21),(52,.28),(1,.19)]

sack_q1 = [(-4,.46),(-2,.3),(-2,.27),(-5,.24),(-3,.22),(-1,.24),(-2,.18),(-5,.15),(-1,.15),(-3,.1),(-1,.08),(-6,.08),(-9,.04),(-4,.04),(10,.16),(-16,.02),(-11,-.05),(-14,-.05),(-8,-.06),(-14,-.14),(-10,-.17),(-4,-.12),(-2,-.05),(-6,-.23),(-3,-.22),(-1,-.25),(-3,-.27),(-2,-.3),(-1,-.31),(-13,-.31),(-15,-.35),(-4,-.36),(-5,-.38),(-5,-.41),(-3,-.39),(-2,-.48),(-9,-.49),(-3,-.44),(-8,-.53),(40,0),(44,0),(68,-.39),(7,-.02),(2,.02),
 (-4,.34),(-2,.36),(-3,.3),(-4,.18),(-7,.13),(-1,.2),(-4,.09),(-8,-.14),(-6,-.17),(-5,-.3),(-2,-.2),(-3,-.33),(-1,-.38),(-3,-.16),(-1,-.03),(-6,.02)]
sack_q2 = [(-24,-.19),(-11,-.03),(-8,-.08),(-5,-.14),(-3,-.17),(-2,-.09),(-10,-.13),(-7,-.02),(-1,-.02),(-13,-.11),(-4,-.19),(13,.14),(30,0),(-1,-.1),(-7,-.19),(11,.03),(-12,-.15),(-5,-.07),(-2,-.14),(-9,-.06),(-6,-.13),(-3,-.04),(-4,-.1)]
sack_q3 = [(-30,.02),(-38,-.07),(-26,-.18),(18,-.08),(42,-.21),(-22,-.05),(-19,-.09),(-16,-.13),(-22,-.09),(-20,-.14),(-17,-.17),(-16,-.02),(-13,-.04),(-14,-.18),(-10,-.03),(-11,-.09),(-9,-.15),(-6,-.2),(-7,-.12),(4,.08),(6,.06),(8,.1),(10,.13),(12,.09),(12,.15),(7,.01),(13,.05),(-8,.16),(-7,-.04),(-3,-.09),(-2,.02),(4,.02),(-18,-.05),(-15,-.09),(-12,-.13),(-13,-.17),(-18,-.13),(-8,-.1),(9,.06),(5,.05)]
sack_q4 = [(-37,.02),(-17,.33),(-12,.32),(-7,.34),(-3,.41),(-3,.42),(-11,.28),(-4,.26),(-14,.13),(-10,.18),(-4,-.25),(-8,-.31),(-9,-.51),(-9,-.52),(-6,-.54),(-6,-.64),(-5,.12),(-9,.07),(-10,.24)]

sack_td_q1 = [(0,.14),(13,0),(44,-.09),(23,-.2),(0,-.08),(0,-.12),(0,-.18),(0,-.26),(0,-.3),(0,-.38)]
sack_td_q2 = [(3,-.24),(0,-.16),(0,-.23),(0,-.27)]
sack_td_q3 = [(31,.19),(18,-.11),(0,-.03),(0,-.1),(0,-.15),(0,-.5)]
sack_td_q4 = []

safety_q1 = [(-2,-.49),(-2,-.14),(-4,-.11),(-3,-.06),(-2,.09),(-1,.07),(0,-.1),(0,-.06),(0,-.03),(-5,-.03),(-14,.05),(-13,-.01),(-2,.01)]
safety_q2 = [(-10,.2),(-20,-.03),(-11,-.05),(-8,-.01),(-6,.02),(0,.02),(-2,-.03),(-5,.01)]
safety_q3 = [(-35,-.02),(-11,.04),(-6,.06),(-5,-.07),(-9,.01),(-10,-.01),(0,.06),(-3,.02)]
safety_q4 = [(-35,.01),(-32,-.01),(-30,.01),(-28,.04),(-26,.01),(-25,.04),(-24,-.02),(-20,-.02),(-17,.04),(-16,.02),(-15,-.02),(-13,.08),(-12,-.03),(0,.09),(-1,.08),(0,.03)]

panel_names = ["Fumble Recovery (Opponent)", "Fumble Recovery (Own)", "Fumble Return Touchdown",
               "Interception Return Touchdown", "Pass Incompletion", "Pass Interception Return",
               "Pass Reception", "Passing Touchdown", "Rush",
               "Rushing Touchdown", "Sack", "Sack Touchdown", "Safety"]
panel_data = [
    [fum_opp_q1, fum_opp_q2, fum_opp_q3, fum_opp_q4],
    [fum_own_q1, fum_own_q2, fum_own_q3, fum_own_q4],
    [fum_td_q1, fum_td_q2, fum_td_q3, fum_td_q4],
    [int_td_q1, int_td_q2, int_td_q3, int_td_q4],
    [incomp_q1, incomp_q2, incomp_q3, incomp_q4],
    [pass_int_q1, pass_int_q2, pass_int_q3, pass_int_q4],
    [recept_q1, recept_q2, recept_q3, recept_q4],
    [pass_td_q1, pass_td_q2, pass_td_q3, pass_td_q4],
    [rush_q1, rush_q2, rush_q3, rush_q4],
    [rush_td_q1, rush_td_q2, rush_td_q3, rush_td_q4],
    [sack_q1, sack_q2, sack_q3, sack_q4],
    [sack_td_q1, sack_td_q2, sack_td_q3, sack_td_q4],
    [safety_q1, safety_q2, safety_q3, safety_q4],
]
quarters = ["1", "2", "3", "4"]
x_ticks = [-100, -50, 0, 50, 100]
x_minor = [-75, -25, 25, 75]
y_ticks = [1.0, 0.8, 0.6, 0.4, 0.2, 0.0, -0.2, -0.4, -0.6, -0.8, -1.0]
y_minor = [0.9, 0.7, 0.5, 0.3, 0.1, -0.1, -0.3, -0.5, -0.7, -0.9]
y_labels = ["1.0", "0.8", "0.6", "0.4", "0.2", "0.0", "-0.2", "-0.4", "-0.6", "-0.8", "-1.0"]
colors = ["#F8766D", "#7CAE00", "#00BFC4", "#C77CFF"]

W, H = 1800, 2366
plt.rcParams["font.family"] = ["Lato", "DejaVu Sans"]
fig = plt.figure(figsize=(W / 100, H / 100), dpi=100)


def px_axes(left, top, right, bottom):
    return fig.add_axes([left / W, 1 - bottom / H, (right - left) / W, (bottom - top) / H])


col_left = [122, 685, 1248]
panel_w, panel_h = 540, 350
for i, (name, series) in enumerate(zip(panel_names, panel_data)):
    row, col = divmod(i, 3)
    left, top = col_left[col], 170 + 436 * row
    ax = px_axes(left, top, left + panel_w, top + panel_h)
    ax.set_facecolor("#EBEBEB")
    ax.set_xlim(-110, 110)
    ax.set_ylim(-1.1, 1.1)
    for s in ax.spines.values():
        s.set_visible(False)
    ax.set_axisbelow(True)
    ax.set_xticks(x_ticks)
    ax.set_xticks(x_minor, minor=True)
    ax.set_yticks(y_ticks)
    ax.set_yticks(y_minor, minor=True)
    ax.grid(True, which="major", color="white", lw=2.4)
    ax.grid(True, which="minor", color="white", lw=1.2)
    ax.tick_params(which="minor", length=0)

    # y axis only on the first column, x axis only under the lowest panel of a column
    show_x = i >= 10
    ax.tick_params(axis="y", which="major", left=col == 0, labelleft=col == 0, length=8, width=2.6,
                   color="#333333", labelcolor="#4D4D4D", labelsize=18, pad=1)
    ax.tick_params(axis="x", which="major", bottom=show_x, labelbottom=show_x, length=8, width=2.6,
                   color="#333333", labelcolor="#4D4D4D", labelsize=18, pad=2)
    ax.set_yticklabels(y_labels)
    ax.set_xticklabels([str(t) for t in x_ticks])

    # interleave the quarters so that no colour ends up all on top
    pts = [np.array(s, dtype=float).reshape(-1, 2) for s in series]
    rank = np.concatenate([np.arange(len(p)) / max(len(p), 1) for p in pts])
    order = np.argsort(rank, kind="stable")
    xy = np.vstack(pts)[order]
    q = np.concatenate([[k] * len(p) for k, p in enumerate(pts)]).astype(int)[order]
    rgb = np.array([matplotlib.colors.to_rgb(c) for c in colors])[q]
    face = np.c_[rgb, np.full(len(rgb), 0.6)]
    edge = np.c_[rgb, np.full(len(rgb), 0.72)]
    ax.scatter(xy[:, 0], xy[:, 1], s=50, facecolors=face, edgecolors=edge, linewidths=1.1, zorder=3)

    ax.axhline(0, color="black", lw=3.2, zorder=4)
    ax.axvline(0, color="black", lw=3.2, zorder=4)

    strip = px_axes(left, top - 61, left + panel_w, top)
    strip.set_facecolor("#D9D9D9")
    strip.set_xticks([])
    strip.set_yticks([])
    for s in strip.spines.values():
        s.set_visible(False)
    strip.text(0.5, 0.5, name, ha="center", va="center", transform=strip.transAxes,
               fontsize=22, fontweight="bold", color="#1A1A1A")

fig.text(122 / W, 1 - 29 / H, "WPA Values - cfbscrapR v1.0.2 | Data: @cfbscrapR and @CFB_Data",
         ha="left", va="center", fontsize=35, fontweight="bold", color="black")
fig.text(122 / W, 1 - 82 / H, "2015 - 2019", ha="left", va="center", fontsize=27.5, color="black")
fig.text(36 / W, 1 - 1215 / H, "WPA", rotation=90, ha="center", va="center", fontsize=46,
         fontweight="black", color="black")
fig.text(955 / W, 1 - 2321 / H, "Yards Gained", ha="center", va="center", fontsize=44,
         fontweight="black", color="black")

# legend box, laid out in figure pixels
leg = fig.add_axes([0, 0, 1, 1], facecolor="none")
leg.set_xlim(0, W)
leg.set_ylim(H, 0)
leg.axis("off")
leg.add_patch(Rectangle((1113, 2002), 517, 105, facecolor="#D9D9D9", edgecolor="#3A1020", lw=1.2))
key_left = [1154, 1274, 1395, 1515]
label_x = [1242, 1363, 1482, 1603]
for kx, lx, label, c in zip(key_left, label_x, quarters, colors):
    leg.add_patch(Rectangle((kx, 2019), 71, 71, facecolor="#F2F2F2", edgecolor="none"))
    rgb = matplotlib.colors.to_rgb(c)
    leg.scatter([kx + 35.5], [2055], s=440, facecolors=[(*rgb, 0.5)], edgecolors=[(*rgb, 0.55)], linewidths=2)
    leg.text(lx, 2056, label, ha="center", va="center", fontsize=22, fontweight="black", color="black")

fig.savefig("out.png", dpi=100)
